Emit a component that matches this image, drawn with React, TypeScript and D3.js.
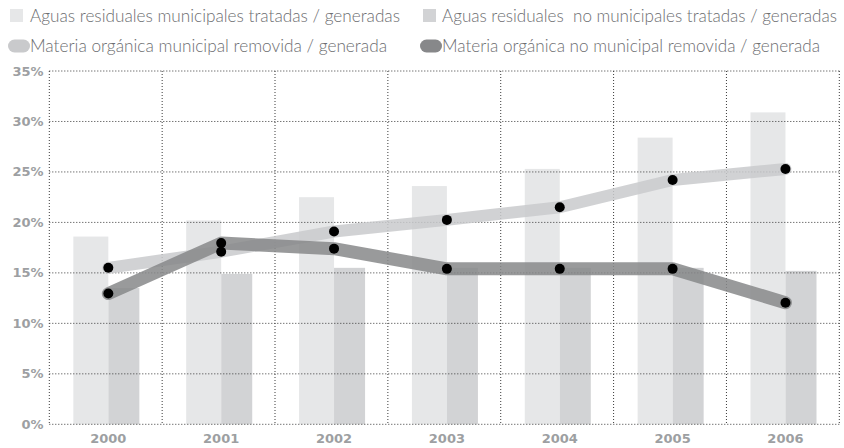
import React from "react";
import * as d3 from "d3";

const years = ["2000", "2001", "2002", "2003", "2004", "2005", "2006"];
const municipalTreated = [18.6, 20.2, 22.5, 23.6, 25.3, 28.4, 30.9];
const nonMunicipalTreated = [13.5, 14.9, 15.5, 15.5, 15.5, 15.5, 15.2];
const municipalRemoved = [15.5, 17.1, 19.1, 20.25, 21.5, 24.2, 25.3];
const nonMunicipalRemoved = [12.95, 17.95, 17.4, 15.4, 15.4, 15.4, 12.05];
const yTicks = [0, 5, 10, 15, 20, 25, 30, 35];
const legendLabels = [
  "Aguas residuales municipales tratadas / generadas",
  "Aguas residuales  no municipales tratadas / generadas",
  "Materia orgánica municipal removida / generada",
  "Materia orgánica no municipal removida / generada",
];

const W = 844;
const H = 448;
const left = 49.3;
const right = 839.3;
const top = 71;
const bottom = 424.3;

const C_BAR1 = "#e6e7e8";
const C_BAR2 = "#d2d3d5";
const C_LINE1 = "#c9cacc";
const C_LINE2 = "#87888a";
const C_TEXT = "#6d6e71";
const C_TICK = "#9d9fa2";

export default function App() {
  const x = d3.scaleBand<string>().domain(years).range([left, right]);
  const bw = x.bandwidth();
  const y = d3.scaleLinear().domain([0, 35]).range([bottom, top]);
  const px = (yr: string) => (x(yr) as number) + bw * 0.523;

  const line = d3
    .line<number>()
    .x((_, i) => px(years[i]))
    .y((d) => y(d))
    .curve(d3.curveLinear);

  const gridProps = {
    stroke: "#3a3a3a",
    strokeWidth: 1,
    strokeDasharray: "1 2",
    fill: "none",
  };

  const legendFont = "Lato, 'Open Sans', sans-serif";
  const tickFont = "'DejaVu Sans', sans-serif";
  const lt = {
    fontFamily: legendFont,
    fontWeight: 300,
    fontSize: 17.2,
    fill: C_TEXT,
    lengthAdjust: "spacingAndGlyphs",
  } as any;

  return (
    <svg width={W} height={H} style={{ position: "absolute", left: 0, top: 0 }}>
      <rect width={W} height={H} fill="#fff" />
      {/* Legend */}
      <rect x={10} y={9} width={13} height={13} fill={C_BAR1} />
      <text x={30} y={22} textLength={370} {...lt}>
        {legendLabels[0]}
      </text>
      <rect x={423} y={9} width={13} height={13} fill={C_BAR2} />
      <text x={442} y={22} textLength={395} {...lt} style={{ whiteSpace: "pre" }}>
        {legendLabels[1]}
      </text>
      <rect x={8} y={39.5} width={22} height={13} rx={6.5} fill={C_LINE1} />
      <text x={30} y={52} textLength={357} {...lt}>
        {legendLabels[2]}
      </text>
      <rect x={420} y={39.5} width={22} height={13} rx={6.5} fill={C_LINE2} />
      <text x={442} y={52} textLength={378} {...lt}>
        {legendLabels[3]}
      </text>

      {/* Bars */}
      {years.map((yr, i) => (
        <g key={yr}>
          <rect
            x={(x(yr) as number) + bw * 0.213}
            y={y(municipalTreated[i])}
            width={bw * 0.31}
            height={y(0) - y(municipalTreated[i])}
            fill={C_BAR1}
          />
          <rect
            x={(x(yr) as number) + bw * 0.523}
            y={y(nonMunicipalTreated[i])}
            width={bw * 0.275}
            height={y(0) - y(nonMunicipalTreated[i])}
            fill={C_BAR2}
          />
        </g>
      ))}

      {/* Grid */}
      {yTicks.map((t) => (
        <line key={"h" + t} x1={left} x2={right} y1={y(t)} y2={y(t)} {...gridProps} />
      ))}
      {years.map((yr) => (
        <line key={"v" + yr} x1={x(yr) as number} x2={x(yr) as number} y1={top} y2={bottom} {...gridProps} />
      ))}
      <line x1={right} x2={right} y1={top} y2={bottom} {...gridProps} />

      {/* Lines */}
      <path
        d={line(municipalRemoved) || ""}
        fill="none"
        stroke={C_LINE1}
        strokeWidth={12}
        strokeLinecap="round"
        strokeLinejoin="round"
        opacity={0.85}
      />
      <path
        d={line(nonMunicipalRemoved) || ""}
        fill="none"
        stroke={C_LINE2}
        strokeWidth={13}
        strokeLinecap="round"
        strokeLinejoin="round"
        opacity={0.85}
      />
      {municipalRemoved.map((v, i) => (
        <circle key={"a" + i} cx={px(years[i])} cy={y(v)} r={5} fill="#000" />
      ))}
      {nonMunicipalRemoved.map((v, i) => (
        <circle key={"b" + i} cx={px(years[i])} cy={y(v)} r={5} fill="#000" />
      ))}

      {/* Y ticks */}
      {yTicks.map((t) => (
        <text
          key={"yt" + t}
          x={43.5}
          y={y(t) + 4.5}
          textAnchor="end"
          fontFamily={tickFont}
          fontWeight="bold"
          fontSize={13}
          fill={C_TICK}
        >
          {t + "%"}
        </text>
      ))}
      {/* X ticks */}
      {years.map((yr) => (
        <text
          key={"xt" + yr}
          x={px(yr)}
          y={443}
          textAnchor="middle"
          fontFamily={tickFont}
          fontWeight="bold"
          fontSize={13}
          fill={C_TICK}
        >
          {yr}
        </text>
      ))}
    </svg>
  );
}
